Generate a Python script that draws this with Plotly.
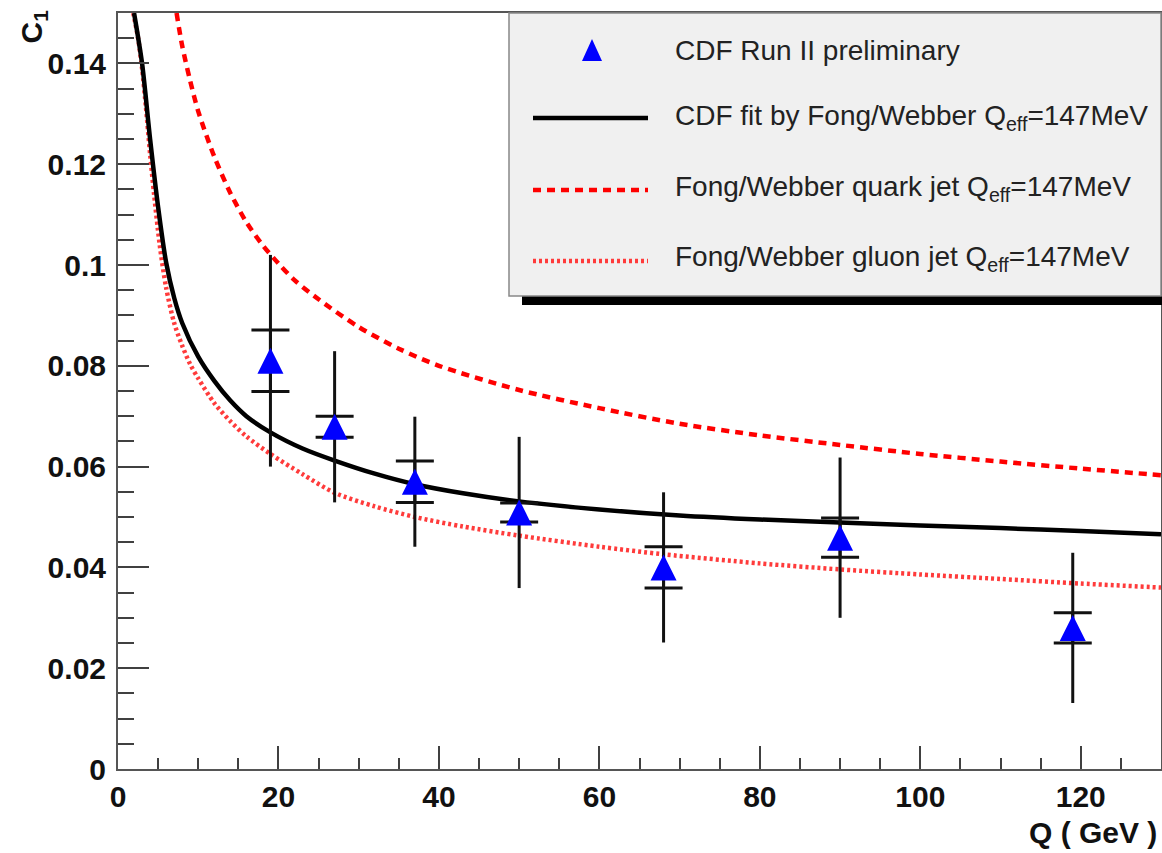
import plotly.graph_objects as go

# ---------------- data ----------------
q_points = [19, 27, 37, 50, 68, 90, 119]
c1_values = [0.081, 0.0679, 0.057, 0.0509, 0.0400, 0.0459, 0.0280]
stat_err = [0.0061, 0.0021, 0.0041, 0.0019, 0.0041, 0.0039, 0.0030]
total_err = [0.0210, 0.0150, 0.0129, 0.0150, 0.0149, 0.0159, 0.0149]

fit_q = [2.0, 3.0, 4.0, 5.0, 6.0, 7.0, 8.0, 10.0, 12.0, 14.0, 16.0, 19.0, 23.0, 27.0,
         32.0, 37.0, 43.0, 50.0, 60.0, 70.0, 80.0, 90.0, 100.0, 110.0, 120.0, 130.0]
fit_c1 = [0.150, 0.140, 0.1250, 0.1115, 0.1005, 0.0935, 0.0885, 0.0818, 0.0770, 0.0731,
          0.0700, 0.0668, 0.0636, 0.0612, 0.0586, 0.0565, 0.0547, 0.0531, 0.0515, 0.0503,
          0.0495, 0.0489, 0.0483, 0.0478, 0.0472, 0.0466]

quark_q = [7.3, 8.0, 9.0, 10.0, 12.0, 14.0, 16.0, 18.0, 20.0, 22.0, 25.0, 30.0, 35.0, 40.0,
           50.0, 60.0, 70.0, 80.0, 90.0, 100.0, 110.0, 120.0, 130.0]
quark_c1 = [0.150, 0.1435, 0.1365, 0.1305, 0.1215, 0.1143, 0.1085, 0.1040, 0.1003, 0.0970,
            0.0932, 0.0877, 0.0834, 0.0800, 0.0752, 0.0716, 0.0685, 0.0662, 0.0643, 0.0625,
            0.0610, 0.0596, 0.0583]

gluon_q = [1.9, 2.5, 3.0, 3.5, 4.0, 4.5, 5.2, 6.0, 7.0, 8.0, 9.0, 10.0, 12.0, 14.0, 16.0, 19.0,
           23.0, 27.0, 32.0, 37.0, 43.0, 50.0, 60.0, 68.0, 80.0, 90.0, 100.0, 110.0, 120.0, 130.0]
gluon_c1 = [0.150, 0.145, 0.139, 0.131, 0.122, 0.114, 0.104, 0.0955, 0.0885, 0.0840, 0.0803,
            0.0775, 0.0726, 0.0690, 0.0660, 0.0625, 0.0585, 0.0548, 0.0521, 0.0500, 0.0481,
            0.0463, 0.0441, 0.0426, 0.0408, 0.0396, 0.0386, 0.0377, 0.0368, 0.0360]

x_tick_vals = [0, 20, 40, 60, 80, 100, 120]
x_tick_labels = ["0", "20", "40", "60", "80", "100", "120"]
y_tick_vals = [0, 0.02, 0.04, 0.06, 0.08, 0.10, 0.12, 0.14]
y_tick_labels = ["0", "0.02", "0.04", "0.06", "0.08", "0.1", "0.12", "0.14"]

legend_labels = [
    "CDF Run II preliminary",
    "CDF fit by Fong/Webber Q<sub>eff</sub>=147MeV",
    "Fong/Webber quark jet Q<sub>eff</sub>=147MeV",
    "Fong/Webber gluon jet Q<sub>eff</sub>=147MeV",
]

# ---------------- geometry ----------------
W, H = 1162, 853
L, R, T, B = 118, 1, 13, 84
PW, PH = W - L - R, H - T - B


def px(xp):
    return (xp - L) / PW


def py(yp):
    return (H - B - yp) / PH


FONT = "Liberation Sans, Arial, Helvetica, sans-serif"
BLACK = "#000000"
RED = "#ff0000"
GLUON = "#ff3b3b"

fig = go.Figure()

fig.add_trace(go.Scatter(x=quark_q, y=quark_c1, mode="lines",
                         line=dict(color=RED, width=4.5, dash="8px,6px", shape="spline", smoothing=0.8),
                         hoverinfo="skip", showlegend=False))
fig.add_trace(go.Scatter(x=gluon_q, y=gluon_c1, mode="lines",
                         line=dict(color=GLUON, width=4.5, dash="3px,3px", shape="spline", smoothing=0.8),
                         hoverinfo="skip", showlegend=False))
fig.add_trace(go.Scatter(x=fit_q, y=fit_c1, mode="lines",
                         line=dict(color=BLACK, width=4.5, shape="spline", smoothing=0.8),
                         hoverinfo="skip", showlegend=False))

# total errors (no caps)
fig.add_trace(go.Scatter(x=q_points, y=c1_values, mode="markers",
                         marker=dict(size=1, opacity=0),
                         error_y=dict(type="data", array=total_err, visible=True,
                                      color="#111111", thickness=3, width=0),
                         hoverinfo="skip", showlegend=False))
# statistical errors (with caps) + markers
fig.add_trace(go.Scatter(x=q_points, y=c1_values, mode="markers",
                         marker=dict(symbol="arrow-down", angle=180, standoff=13, size=26,
                                     color="#0000ff", line=dict(width=0)),
                         error_y=dict(type="data", array=stat_err, visible=True,
                                      color="#111111", thickness=3, width=19),
                         showlegend=False))

axis_common = dict(showgrid=False, zeroline=False, showline=True, linecolor="#555555",
                   linewidth=2, mirror=True, ticks="inside", tickcolor="#404040", tickwidth=2,
                   automargin=False,
                   tickfont=dict(family=FONT, size=30, color="#111111", weight="bold"))

fig.update_xaxes(range=[0, 130], tickvals=x_tick_vals, ticktext=x_tick_labels, ticklen=23,
                 minor=dict(dtick=5, tick0=0, ticks="inside", ticklen=11, tickcolor="#404040",
                            tickwidth=2),
                 **axis_common)
fig.update_yaxes(range=[0, 0.15], tickvals=y_tick_vals, ticktext=y_tick_labels, ticklen=31,
                 ticklabelstandoff=4,
                 minor=dict(dtick=0.005, tick0=0, ticks="inside", ticklen=16, tickcolor="#404040",
                            tickwidth=2),
                 **axis_common)

shapes = []
annotations = []

# legend shadow and box
shapes.append(dict(type="rect", xref="paper", yref="paper", x0=px(522), x1=px(1170),
                   y0=py(305), y1=py(296), fillcolor="#000000", line=dict(width=0), layer="above"))
shapes.append(dict(type="rect", xref="paper", yref="paper", x0=px(509), x1=px(1161),
                   y0=py(296), y1=py(13), fillcolor="#f0f0f0",
                   line=dict(color="#888888", width=1.5), layer="above"))

row_y = [50, 118, 190, 261]
sx0, sx1 = px(533), px(648)
# triangle marker sample
tx, ty = 592, 50
tri = "M {a},{b} L {c},{d} L {e},{d} Z".format(
    a=px(tx), b=py(ty - 11), c=px(tx - 10), d=py(ty + 11), e=px(tx + 10))
shapes.append(dict(type="path", xref="paper", yref="paper", path=tri,
                   fillcolor="#0000ff", line=dict(width=0), layer="above"))
shapes.append(dict(type="line", xref="paper", yref="paper", x0=sx0, x1=sx1,
                   y0=py(row_y[1]), y1=py(row_y[1]), line=dict(color=BLACK, width=4.5),
                   layer="above"))
shapes.append(dict(type="line", xref="paper", yref="paper", x0=sx0, x1=sx1,
                   y0=py(row_y[2]), y1=py(row_y[2]),
                   line=dict(color=RED, width=4.5, dash="8px,6px"), layer="above"))
shapes.append(dict(type="line", xref="paper", yref="paper", x0=sx0, x1=sx1,
                   y0=py(row_y[3]), y1=py(row_y[3]),
                   line=dict(color=GLUON, width=4.5, dash="3px,3px"), layer="above"))

text_centers = [50, 117, 188, 258]
for lab, yc in zip(legend_labels, text_centers):
    annotations.append(dict(xref="paper", yref="paper", x=px(673), y=py(yc),
                            xanchor="left", yanchor="middle", text=lab, showarrow=False,
                            font=dict(family=FONT, size=28, color="#222222")))

# axis titles
annotations.append(dict(xref="paper", yref="paper", x=px(1159), y=py(814), xanchor="right",
                        yanchor="top", text="Q ( GeV )", showarrow=False,
                        font=dict(family=FONT, size=30, color="#111111", weight="bold")))
annotations.append(dict(xref="paper", yref="paper", x=px(12), y=py(8), xanchor="left",
                        yanchor="top", text="C<sub>1</sub>", showarrow=False, textangle=-90,
                        font=dict(family=FONT, size=30, color="#111111", weight="bold")))

fig.update_layout(width=W, height=H, autosize=False,
                  margin=dict(l=L, r=R, t=T, b=B, pad=0, autoexpand=False),
                  paper_bgcolor="white", plot_bgcolor="white", showlegend=False,
                  hovermode=False,
                  shapes=shapes, annotations=annotations)

# remove the default page margin so the figure sits at the page origin
POST = ("document.body.style.margin='0';document.body.style.padding='0';"
        "document.body.style.overflow='hidden';")
fig.write_html("out.html", post_script=POST,
               config={"displayModeBar": False, "staticPlot": True})
